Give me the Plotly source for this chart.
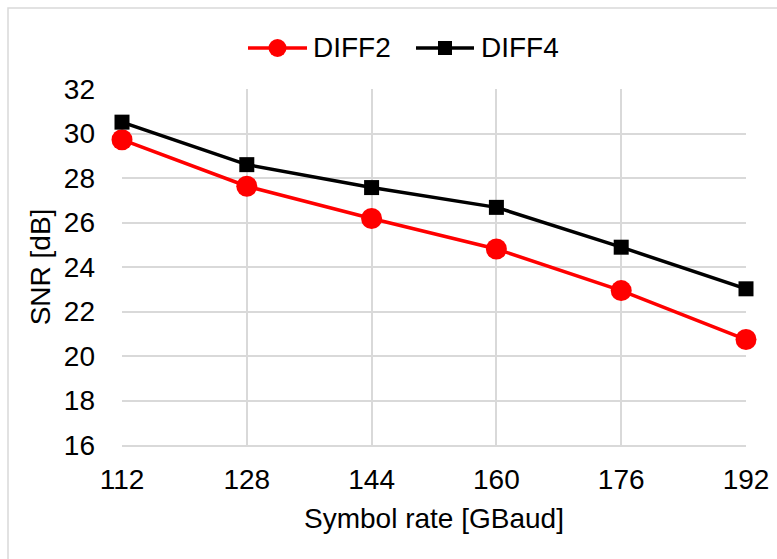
import plotly.graph_objects as go

# Symbol rate (GBaud) and measured SNR (dB)
symbol_rate = [112, 128, 144, 160, 176, 192]
snr_diff2 = [29.72, 27.63, 26.18, 24.81, 22.94, 20.74]
snr_diff4 = [30.51, 28.60, 27.57, 26.68, 24.89, 23.02]

x_ticks = [112, 128, 144, 160, 176, 192]
y_ticks = [16, 18, 20, 22, 24, 26, 28, 30, 32]

series_names = ["DIFF2", "DIFF4"]
series_colors = ["#ff0000", "#000000"]

FONT = "Arial, Liberation Sans, sans-serif"
GRID = "#d9d9d9"
FS = 28

W, H = 777, 559
L, R, T, B = 122, 31, 89, 114
pw, ph = W - L - R, H - T - B


def px_x(p):
    """pixel column -> paper x"""
    return (p - L) / pw


def px_y(p):
    """pixel row (from top) -> paper y"""
    return 1 - (p - T) / ph


fig = go.Figure()
fig.add_trace(go.Scatter(
    x=symbol_rate, y=snr_diff2, name=series_names[0], mode="lines+markers",
    line=dict(color=series_colors[0], width=3.5),
    marker=dict(symbol="circle", size=21, color=series_colors[0]),
    cliponaxis=False, showlegend=False,
))
fig.add_trace(go.Scatter(
    x=symbol_rate, y=snr_diff4, name=series_names[1], mode="lines+markers",
    line=dict(color=series_colors[1], width=3.5),
    marker=dict(symbol="square", size=15, color=series_colors[1]),
    cliponaxis=False, showlegend=False,
))

shapes = []
annotations = []

# light grey frame around the chart area
shapes.append(dict(
    type="rect", xref="paper", yref="paper",
    x0=px_x(8), x1=px_x(W + 10), y0=px_y(H + 10), y1=px_y(8),
    line=dict(color=GRID, width=1.5), fillcolor="rgba(0,0,0,0)", layer="below",
))

# legend row above the plot: line, marker, label for each series
leg_y = px_y(48)
leg_items = [
    dict(x0=248, x1=307, text_x=311, symbol="circle", size=18),
    dict(x0=416, x1=474, text_x=479, symbol="square", size=14),
]
for name, color, item in zip(series_names, series_colors, leg_items):
    shapes.append(dict(
        type="line", xref="paper", yref="paper",
        x0=px_x(item["x0"]), x1=px_x(item["x1"]), y0=leg_y, y1=leg_y,
        line=dict(color=color, width=3.5),
    ))
    cx = px_x((item["x0"] + item["x1"]) / 2)
    half = item["size"] / 2
    shapes.append(dict(
        type="circle" if item["symbol"] == "circle" else "rect",
        xref="paper", yref="paper", xsizemode="pixel", ysizemode="pixel",
        xanchor=cx, yanchor=leg_y,
        x0=-half, x1=half, y0=-half, y1=half,
        fillcolor=color, line=dict(color=color, width=0),
    ))
    annotations.append(dict(
        text=name, xref="paper", yref="paper",
        x=px_x(item["text_x"]), y=leg_y, xanchor="left", yanchor="middle",
        showarrow=False, font=dict(size=FS, color="#000000"),
    ))

fig.update_layout(
    width=W, height=H,
    margin=dict(l=L, r=R, t=T, b=B, autoexpand=False),
    paper_bgcolor="white", plot_bgcolor="white",
    font=dict(family=FONT, size=FS, color="#000000"),
    showlegend=False,
    shapes=shapes,
    annotations=annotations,
    xaxis=dict(
        range=[112, 192], tickmode="array", tickvals=x_ticks,
        showgrid=True, gridcolor=GRID, gridwidth=1.5,
        showline=True, linecolor=GRID, linewidth=1.5,
        zeroline=False, ticks="", ticklen=0, ticklabelstandoff=9,
        tickfont=dict(size=FS), automargin=False,
        title=dict(text="Symbol rate [GBaud]", font=dict(size=FS), standoff=14),
    ),
    yaxis=dict(
        range=[16, 32], tickmode="array", tickvals=y_ticks,
        showgrid=True, gridcolor=GRID, gridwidth=1.5,
        showline=False, zeroline=False, ticks="", ticklen=0, ticklabelstandoff=26,
        tickfont=dict(size=FS), automargin=False,
        title=dict(text="SNR [dB]", font=dict(size=FS), standoff=5),
    ),
)

fig.write_html("out.html")
